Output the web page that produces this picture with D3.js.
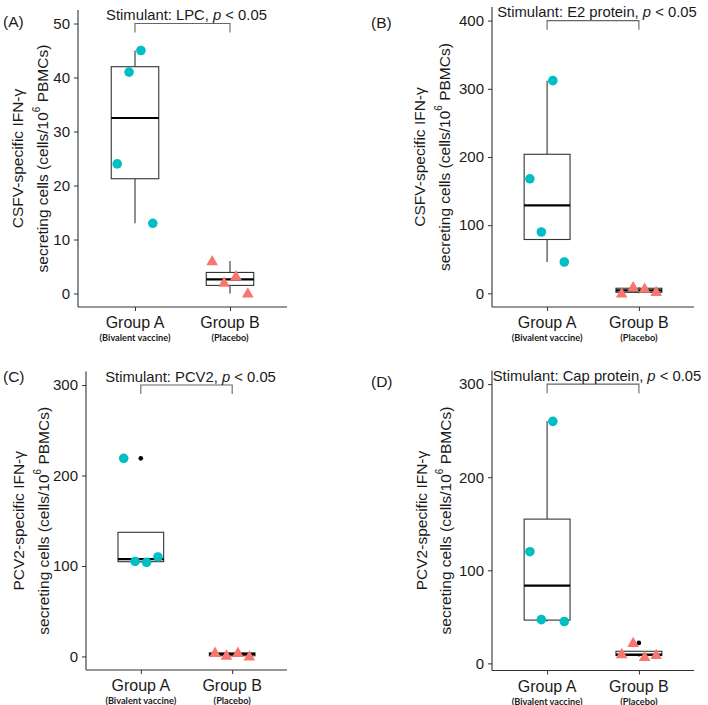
<!DOCTYPE html>
<html>
<head>
<meta charset="utf-8">
<script src="https://cdn.jsdelivr.net/npm/d3@7"></script>
<style>
  html, body { margin: 0; padding: 0; background: #fff; }
  svg { display: block; }
  text { font-family: "Liberation Sans", Arial, sans-serif; fill: #1a1a1a; }
</style>
</head>
<body>
<svg id="chart" width="708" height="705"></svg>
<script>
// ---------------- DATA ----------------
const groups = ["Group A", "Group B"];
const groupNotes = ["(Bivalent vaccine)", "(Placebo)"];
const panelLabels = ["(A)", "(B)", "(C)", "(D)"];
const stimulants = ["LPC", "E2 protein", "PCV2", "Cap protein"];
const yTitleLine1 = ["CSFV-specific IFN-γ", "CSFV-specific IFN-γ", "PCV2-specific IFN-γ", "PCV2-specific IFN-γ"];
const pText = "p < 0.05";

// values per animal (order = dodge position within group)
const lpcGroupA = [24, 41, 45, 13];
const lpcGroupB = [6, 2, 3.2, 0];
const e2GroupA = [168, 90, 312, 46];
const e2GroupB = [0, 9, 7, 2];
const pcv2GroupA = [219, 105, 104, 110];
const pcv2GroupB = [4, 1, 4, 0];
const capGroupA = [120, 47, 260, 45];
const capGroupB = [10, 22, 7, 9];

const ticksLPC = [0, 10, 20, 30, 40, 50];
const ticksE2 = [0, 100, 200, 300, 400];
const ticksPCV2 = [0, 100, 200, 300];
const ticksCap = [0, 100, 200, 300];

const bracketHeights = [50, 400, 300, 300];

// ---------------- LAYOUT ----------------
const panels = [
  { A: lpcGroupA, B: lpcGroupB, ticks: ticksLPC, x0: 78, x1: 287, yb: 307, yt: 10, t1x: 17, t2x: 42 },
  { A: e2GroupA, B: e2GroupB, ticks: ticksE2, x0: 492, x1: 694, yb: 307, yt: 7, t1x: 419, t2x: 444 },
  { A: pcv2GroupA, B: pcv2GroupB, ticks: ticksPCV2, x0: 86, x1: 287, yb: 670, yt: 371.5, t1x: 18, t2x: 43 },
  { A: capGroupA, B: capGroupB, ticks: ticksCap, x0: 492, x1: 694, yb: 670.5, yt: 370.5, t1x: 421, t2x: 445 }
];
const panelLabelPos = [[3, 27], [371, 28], [3, 382], [371, 387]];

const teal = "#00BFC4", salmon = "#F8766D";
const svg = d3.select("#chart");

panels.forEach((p, i) => {
  const g = svg.append("g");
  const all = p.A.concat(p.B, [bracketHeights[i]]);
  const lo = d3.min(all), hi = d3.max(all);
  const pad = (hi - lo) * 0.05;
  const y = d3.scaleLinear().domain([lo - pad, hi + pad]).range([p.yb, p.yt]);
  const x = d3.scaleLinear().domain([0.4, 2.6]).range([p.x0, p.x1]);
  const xGroup = gi => x(gi + 1);

  // axes
  const yAxis = d3.axisLeft(y).tickValues(p.ticks).tickSize(4).tickPadding(4).tickFormat(d3.format("d"));
  const ya = g.append("g").attr("transform", `translate(${p.x0},0)`).call(yAxis);
  ya.select(".domain").attr("d", `M0,${p.yt}V${p.yb}`).attr("stroke", "#333").attr("stroke-width", 1.1);
  ya.selectAll(".tick line").attr("stroke", "#333");
  ya.selectAll(".tick text").attr("font-size", 15).attr("fill", "#333").style("font-family", "Liberation Sans, Arial, sans-serif");

  const xAxis = d3.axisBottom(x).tickValues([1, 2]).tickSize(4).tickFormat("");
  const xa = g.append("g").attr("transform", `translate(0,${p.yb})`).call(xAxis);
  xa.select(".domain").attr("d", `M${p.x0},0H${p.x1}`).attr("stroke", "#333").attr("stroke-width", 1.1);
  xa.selectAll(".tick line").attr("stroke", "#333");

  groups.forEach((gn, gi) => {
    g.append("text").attr("x", xGroup(gi)).attr("y", p.yb + 21).attr("text-anchor", "middle")
      .attr("font-size", 16).attr("fill", "#222").text(gn);
    g.append("text").attr("x", xGroup(gi)).attr("y", p.yb + 34).attr("text-anchor", "middle")
      .attr("font-size", 9.2).attr("font-weight", "bold").attr("fill", "#333")
      .style("font-family", "Lato, 'Open Sans', sans-serif").text(groupNotes[gi]);
  });

  // y title
  const yc = (p.yt + p.yb) / 2;
  g.append("text").attr("transform", `translate(${p.t1x},${yc}) rotate(-90)`).attr("text-anchor", "middle")
    .attr("dominant-baseline", "central").attr("font-size", 15.5).text(yTitleLine1[i]);
  const t2 = g.append("text").attr("transform", `translate(${p.t2x},${yc}) rotate(-90)`).attr("text-anchor", "middle")
    .attr("dominant-baseline", "central").attr("font-size", 15.5);
  t2.append("tspan").text("secreting cells (cells/10");
  t2.append("tspan").attr("font-size", 10).attr("dy", -6).text("6");
  t2.append("tspan").attr("dy", 6).text(" PBMCs)");

  // panel label
  g.append("text").attr("x", panelLabelPos[i][0]).attr("y", panelLabelPos[i][1]).attr("font-size", 15.5).text(panelLabels[i]);

  // boxplots
  [p.A, p.B].forEach((vals, gi) => {
    const s = vals.slice().sort(d3.ascending);
    const q1 = d3.quantile(s, 0.25), med = d3.quantile(s, 0.5), q3 = d3.quantile(s, 0.75);
    const iqr = q3 - q1;
    const inside = s.filter(v => v >= q1 - 1.5 * iqr && v <= q3 + 1.5 * iqr);
    const wLo = d3.min(inside), wHi = d3.max(inside);
    const outl = s.filter(v => v < q1 - 1.5 * iqr || v > q3 + 1.5 * iqr);
    const cx = xGroup(gi);
    const hw = (x(1.25) - x(1));
    g.append("line").attr("x1", cx).attr("x2", cx).attr("y1", y(q3)).attr("y2", y(wHi)).attr("stroke", "#333").attr("stroke-width", 1.1);
    g.append("line").attr("x1", cx).attr("x2", cx).attr("y1", y(q1)).attr("y2", y(wLo)).attr("stroke", "#333").attr("stroke-width", 1.1);
    g.append("rect").attr("x", cx - hw).attr("width", 2 * hw).attr("y", y(q3)).attr("height", Math.max(0, y(q1) - y(q3)))
      .attr("fill", "#fff").attr("stroke", "#333").attr("stroke-width", 1.1);
    g.append("line").attr("x1", cx - hw).attr("x2", cx + hw).attr("y1", y(med)).attr("y2", y(med)).attr("stroke", "#000").attr("stroke-width", 2.2);
    outl.forEach(v => g.append("circle").attr("cx", cx).attr("cy", y(v)).attr("r", 2.3).attr("fill", "#000"));
  });

  // points
  const offs = [-0.1875, -0.0625, 0.0625, 0.1875];
  p.A.forEach((v, k) => {
    g.append("circle").attr("cx", x(1 + offs[k])).attr("cy", y(v)).attr("r", 4.8).attr("fill", teal);
  });
  p.B.forEach((v, k) => {
    const cx = x(2 + offs[k]), cy = y(v);
    g.append("path").attr("d", `M${cx},${cy - 6.2}L${cx + 5.8},${cy + 4.1}L${cx - 5.8},${cy + 4.1}Z`).attr("fill", salmon);
  });

  // significance bracket
  const by = y(bracketHeights[i]);
  const tip = (y.domain()[1] - y.domain()[0]) * 0.03;
  const byt = y(bracketHeights[i] - tip);
  g.append("path").attr("d", `M${xGroup(0)},${byt}V${by}H${xGroup(1)}V${byt}`)
    .attr("fill", "none").attr("stroke", "#666").attr("stroke-width", 1.1);
  const lab = g.append("text").attr("x", (xGroup(0) + xGroup(1)) / 2 + 4).attr("y", by - 3.5)
    .attr("text-anchor", "middle").attr("font-size", 14.8);
  lab.append("tspan").text(`Stimulant: ${stimulants[i]}, `);
  lab.append("tspan").attr("font-style", "italic").text("p");
  lab.append("tspan").text(pText.slice(1));
});
</script>
</body>
</html>
